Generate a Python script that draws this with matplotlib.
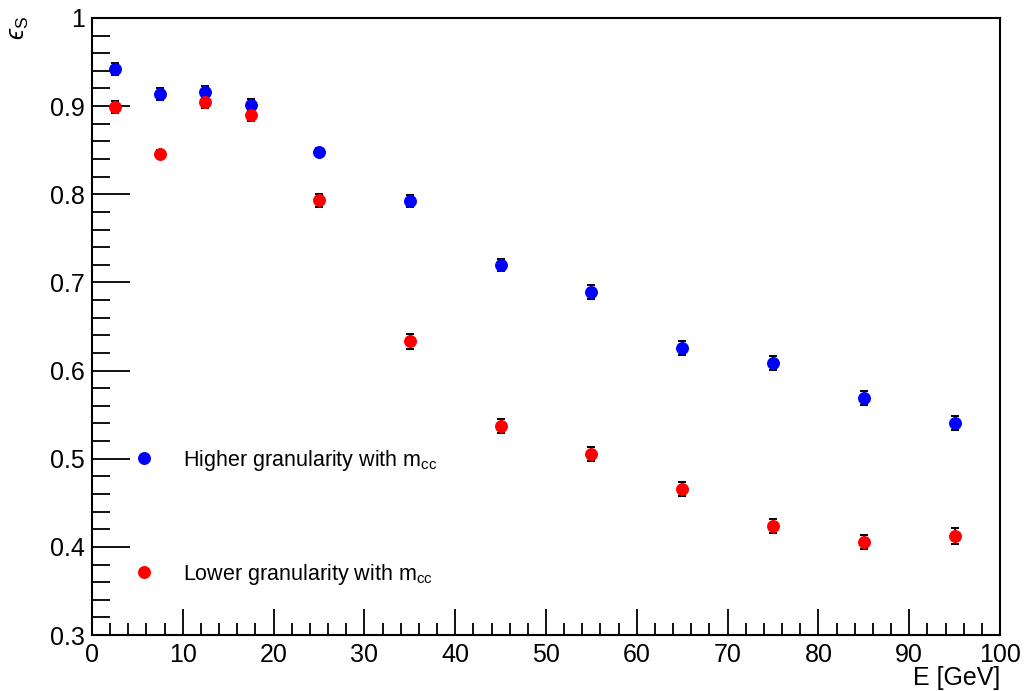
import numpy as np
import matplotlib.pyplot as plt
from matplotlib.lines import Line2D
from matplotlib.ticker import MultipleLocator, FuncFormatter

plt.rcParams['font.family'] = ['Liberation Sans', 'DejaVu Sans']
plt.rcParams['mathtext.fontset'] = 'custom'
plt.rcParams['mathtext.rm'] = 'Liberation Sans'
plt.rcParams['mathtext.it'] = 'Liberation Sans:italic'

# energy bins [GeV]
energy = [2.5, 7.5, 12.5, 17.5, 25, 35, 45, 55, 65, 75, 85, 95]

# signal efficiency, higher granularity
eff_high = [0.942, 0.914, 0.916, 0.901, 0.848, 0.792, 0.720, 0.689, 0.626, 0.609, 0.569, 0.541]
err_high = [0.007, 0.007, 0.007, 0.007, 0.004, 0.007, 0.007, 0.008, 0.008, 0.008, 0.008, 0.008]

# signal efficiency, lower granularity
eff_low = [0.899, 0.846, 0.905, 0.890, 0.793, 0.633, 0.537, 0.505, 0.466, 0.424, 0.406, 0.412]
err_low = [0.007, 0.004, 0.007, 0.007, 0.007, 0.008, 0.008, 0.008, 0.008, 0.008, 0.008, 0.009]

labels = [r'Higher granularity with m$_{\mathrm{cc}}$',
          r'Lower granularity with m$_{\mathrm{cc}}$']
colors = ['blue', 'red']

fig = plt.figure(figsize=(10.24, 6.91), dpi=100)
ax = fig.add_axes([0.0898, 0.081, 0.8868, 0.893])

for eff, err, c in zip([eff_high, eff_low], [err_high, err_low], colors):
    ax.errorbar(energy, eff, yerr=err, fmt='o', color=c, ms=8.3,
                ecolor='black', elinewidth=1.4, capsize=2.6, capthick=1.4)

ax.set_xlim(0, 100)
ax.set_ylim(0.3, 1.0)

ax.xaxis.set_major_locator(MultipleLocator(10))
ax.xaxis.set_minor_locator(MultipleLocator(2))
ax.yaxis.set_major_locator(MultipleLocator(0.1))
ax.yaxis.set_minor_locator(MultipleLocator(0.02))
ax.yaxis.set_major_formatter(FuncFormatter(lambda v, p: '%g' % round(v, 2)))

ax.tick_params(which='both', direction='in', top=False, right=False,
               labelsize=18, width=1.3)
ax.tick_params(axis='x', which='major', length=19, pad=6)
ax.tick_params(axis='x', which='minor', length=9)
ax.tick_params(axis='y', which='major', length=27, pad=5)
ax.tick_params(axis='y', which='minor', length=13)
for s in ax.spines.values():
    s.set_linewidth(1.5)

ax.set_xlabel('E [GeV]', fontsize=18, loc='right', labelpad=-1)
fig.text(0.019, 0.96, '$\u03f5_{\\mathrm{S}}$', rotation=90, fontsize=18,
         ha='center', va='center', family='DejaVu Sans')

handles = [Line2D([], [], ls='none', marker='o', ms=8.3, color=c) for c in colors]
ax.legend(handles, labels, loc='upper left', bbox_to_anchor=(0.03, 0.335),
          frameon=False, fontsize=15.5, labelspacing=4.15, handlelength=0.5,
          handletextpad=1.55, numpoints=1)

fig.savefig('out.png', dpi=100)
